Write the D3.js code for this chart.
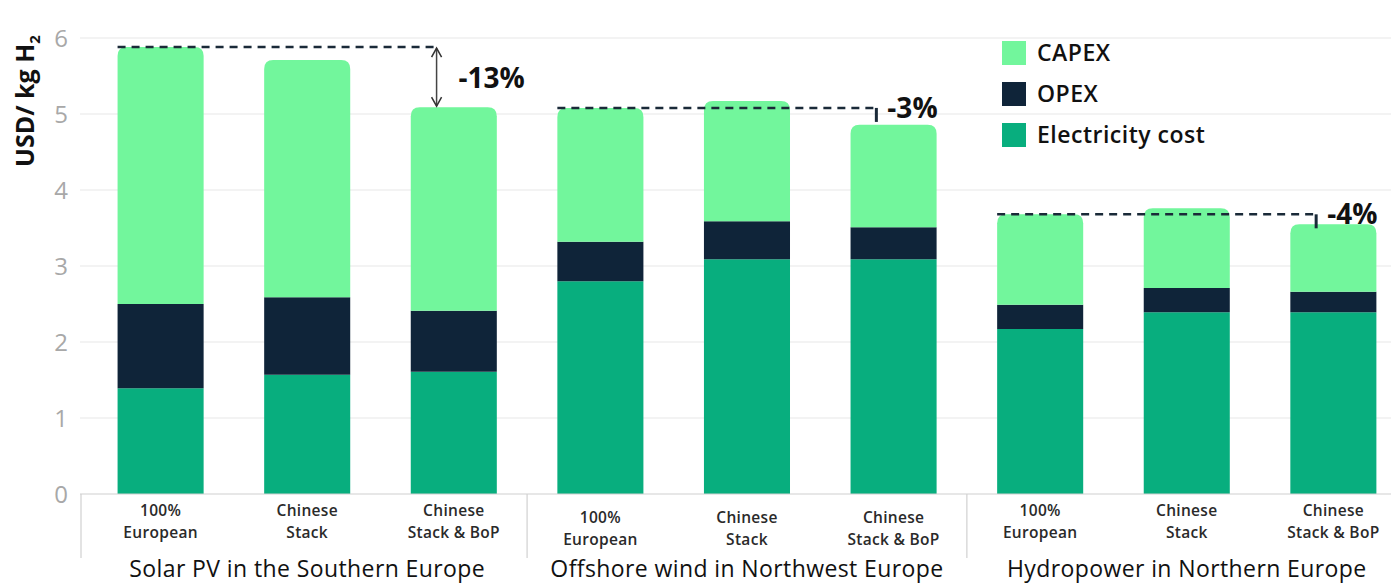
<!DOCTYPE html>
<html><head><meta charset="utf-8">
<script src="https://cdn.jsdelivr.net/npm/d3@7"></script>
<style>body{margin:0;background:#fff;}svg{display:block;font-family:"Open Sans",sans-serif;}</style>
</head><body>
<svg id="c" width="1391" height="585"></svg>
<script>
const groups = ["Solar PV in the Southern Europe","Offshore wind in Northwest Europe","Hydropower in Northern Europe"];
const scenarios = ["100%\nEuropean","Chinese\nStack","Chinese\nStack & BoP"];
const electricity = [1.39,1.57,1.61, 2.80,3.09,3.09, 2.17,2.39,2.39];
const opex        = [1.11,1.02,0.80, 0.52,0.50,0.42, 0.32,0.32,0.27];
const capex       = [3.38,3.12,2.68, 1.76,1.58,1.35, 1.19,1.05,0.89];
const yTicks = [0,1,2,3,4,5,6];
const changes = ["-13%","-3%","-4%"];
const seriesNames = ["CAPEX","OPEX","Electricity cost"];
const colors = {"Electricity cost":"#08ae7e","OPEX":"#0f2439","CAPEX":"#72f69c"};

(function(){
const svg = d3.select("#c");
const pL=80, pR=1391, pT=38, pB=494;
const ids = d3.range(9);
const x = d3.scaleBand().domain(ids).range([pL,pR]).paddingInner(0.413).paddingOuter(0.178).align(0.72);
const y = d3.scaleLinear().domain([0,6]).range([pB,pT]);

svg.append("g").selectAll("line").data(yTicks.slice(1)).join("line")
  .attr("x1",pL).attr("x2",pR).attr("y1",d=>y(d)).attr("y2",d=>y(d))
  .attr("stroke","#e8e8e8").attr("stroke-width",1.2);
svg.append("g").selectAll("text").data(yTicks).join("text")
  .attr("x",61).attr("y",d=>y(d)).attr("dy","0.36em").attr("text-anchor","middle")
  .attr("fill","#a8a8a8").attr("font-size",24).attr("font-weight",500).text(d=>d);
const yt = svg.append("text").attr("transform","translate(34,101) rotate(-90)")
  .attr("text-anchor","middle").attr("font-size",25).attr("font-weight",700).attr("fill","#111");
yt.append("tspan").text("USD/ kg H");
yt.append("tspan").attr("font-size",15).attr("dy",6).text("2");

const data = ids.map(i=>({i, "Electricity cost":electricity[i], "OPEX":opex[i], "CAPEX":capex[i]}));
const stack = d3.stack().keys(["Electricity cost","OPEX","CAPEX"])(data);
const r = 9;
function roundTop(x0,y0,w,h,rr){
  return `M${x0},${y0+h}V${y0+rr}Q${x0},${y0} ${x0+rr},${y0}H${x0+w-rr}Q${x0+w},${y0} ${x0+w},${y0+rr}V${y0+h}Z`;
}
stack.forEach(s=>{
  svg.append("g").selectAll("path").data(s).join("path")
    .attr("fill",colors[s.key])
    .attr("d",d=>{
      const x0=x(d.data.i), w=x.bandwidth(), y0=y(d[1]), h=y(d[0])-y(d[1]);
      return s.key==="CAPEX" ? roundTop(x0,y0,w,h,r) : `M${x0},${y0}h${w}v${h}h${-w}Z`;
    });
});

svg.append("line").attr("x1",pL).attr("x2",pR).attr("y1",pB).attr("y2",pB).attr("stroke","#d0d0d0").attr("stroke-width",1.2);
[pL+1, (x(2)+x.bandwidth()+x(3))/2, (x(5)+x.bandwidth()+x(6))/2].forEach(sx=>{
  svg.append("line").attr("x1",sx).attr("x2",sx).attr("y1",pB).attr("y2",558).attr("stroke","#d0d0d0").attr("stroke-width",1.2);
});

ids.forEach(i=>{
  const t = svg.append("text").attr("text-anchor","middle").attr("font-size",15.5).attr("letter-spacing",0.3).attr("font-weight",600).attr("fill","#2a2a2a");
  const lines = scenarios[i%3].split("\n");
  const y0 = (Math.floor(i/3)===1) ? 523 : 516;
  lines.forEach((l,k)=>t.append("tspan").attr("x",x(i)+x.bandwidth()/2).attr("y",y0+k*22).text(l));
});
groups.forEach((g,k)=>{
  const cx = (x(k*3)+x(k*3+2)+x.bandwidth())/2;
  svg.append("text").attr("x",cx).attr("y",577).attr("text-anchor","middle")
    .attr("font-size",23).attr("letter-spacing",0.4).attr("font-weight",500).attr("fill","#111").text(g);
});

const totals = ids.map(i=>electricity[i]+opex[i]+capex[i]);
svg.append("defs").append("marker").attr("id","ah").attr("viewBox","0 0 12 12").attr("refX",10).attr("refY",6)
  .attr("markerWidth",12).attr("markerHeight",12).attr("orient","auto-start-reverse").attr("markerUnits","userSpaceOnUse")
  .append("path").attr("d","M1,1L10,6L1,11").attr("fill","none").attr("stroke","#333").attr("stroke-width",1.5);
[0,1,2].forEach(k=>{
  const a=k*3, b=k*3+2;
  const xs=x(a), xe=x(b)+x.bandwidth()*0.3;
  const ya=y(totals[a]), yb=y(totals[b]);
  svg.append("line").attr("x1",xs).attr("x2",xe).attr("y1",ya).attr("y2",ya)
    .attr("stroke","#1a2a38").attr("stroke-width",2.5).attr("stroke-dasharray","8,6");
  if(k===0){
    svg.append("line").attr("x1",xe).attr("x2",xe).attr("y1",ya+1).attr("y2",yb-1)
      .attr("stroke","#444").attr("stroke-width",1.5).attr("marker-start","url(#ah)").attr("marker-end","url(#ah)");
    svg.append("text").attr("x",xe+22).attr("y",(ya+yb)/2+11).attr("font-size",28).attr("font-weight",700).attr("fill","#111").text(changes[k]);
  } else {
    svg.append("line").attr("x1",xe).attr("x2",xe).attr("y1",ya).attr("y2",ya+14)
      .attr("stroke","#1a2a38").attr("stroke-width",3);
    svg.append("text").attr("x",xe+11).attr("y",ya+10).attr("font-size",28).attr("font-weight",700).attr("fill","#111").text(changes[k]);
  }
});

seriesNames.forEach((n,k)=>{
  const ly = 41 + k*41;
  svg.append("rect").attr("x",1002).attr("y",ly).attr("width",24).attr("height",24).attr("fill",colors[n]);
  svg.append("text").attr("x",1037).attr("y",ly+12).attr("dy","0.36em").attr("font-size",23).attr("letter-spacing",0.5).attr("font-weight",600).attr("fill","#111").text(n);
});
})();
</script>
</body></html>
